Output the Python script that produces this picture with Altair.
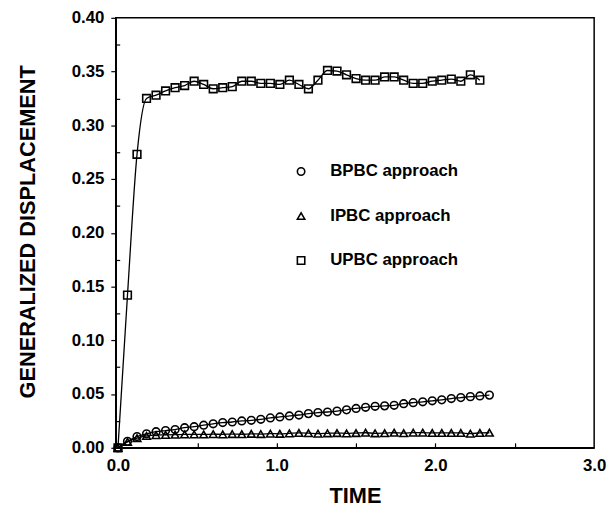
import altair as alt
import pandas as pd

# ---- data ----
time = [0.00, 0.06, 0.12, 0.18, 0.24, 0.30, 0.36, 0.42, 0.48, 0.54,
        0.60, 0.66, 0.72, 0.78, 0.84, 0.90, 0.96, 1.02, 1.08, 1.14,
        1.20, 1.26, 1.32, 1.38, 1.44, 1.50, 1.56, 1.62, 1.68, 1.74,
        1.80, 1.86, 1.92, 1.98, 2.04, 2.10, 2.16, 2.22, 2.28, 2.34]

bpbc = [0.0, 0.006, 0.0105, 0.013, 0.015, 0.016, 0.017, 0.0187, 0.0196, 0.021,
        0.0223, 0.0235, 0.024, 0.025, 0.0256, 0.0265, 0.0278, 0.0287, 0.0296, 0.0305,
        0.0318, 0.0328, 0.0333, 0.0341, 0.0353, 0.0366, 0.0377, 0.0386, 0.039, 0.0395,
        0.041, 0.042, 0.0428, 0.0437, 0.0446, 0.0458, 0.0467, 0.0476, 0.0482, 0.049]

ipbc = [0.0, 0.0055, 0.009, 0.011, 0.0118, 0.012, 0.0122, 0.0125, 0.0125, 0.0124,
        0.0127, 0.0125, 0.0128, 0.0126, 0.013, 0.0128, 0.0132, 0.013, 0.0134, 0.0138,
        0.0136, 0.0132, 0.0135, 0.0137, 0.0134, 0.0137, 0.014, 0.0135, 0.0136, 0.014,
        0.0136, 0.0141, 0.0141, 0.0138, 0.0138, 0.0138, 0.0138, 0.0132, 0.0138, 0.014]

upbc_time = time[:39]
upbc = [0.0, 0.142, 0.273, 0.325, 0.328, 0.332, 0.335, 0.337, 0.341, 0.338,
        0.334, 0.335, 0.336, 0.341, 0.341, 0.339, 0.339, 0.338, 0.342, 0.338,
        0.334, 0.342, 0.351, 0.3505, 0.347, 0.3435, 0.342, 0.342, 0.345, 0.345,
        0.342, 0.339, 0.339, 0.341, 0.342, 0.343, 0.341, 0.347, 0.342]

series_names = ["BPBC approach", "IPBC approach", "UPBC approach"]
series_shapes = ["circle", "triangle-up", "square"]

x_major = [0.0, 1.0, 2.0, 3.0]
x_minor = [0.5, 1.0, 1.5, 2.0, 2.5]
y_major = [0.0, 0.05, 0.10, 0.15, 0.20, 0.25, 0.30, 0.35, 0.40]
y_minor = [0.025, 0.075, 0.125, 0.175, 0.225, 0.275, 0.325, 0.375]

rows = []
for name, ts, vs in zip(series_names, [time, time, upbc_time], [bpbc, ipbc, upbc]):
    for t, v in zip(ts, vs):
        rows.append({"time": t, "value": v, "series": name})
df = pd.DataFrame(rows)

FONT = "Liberation Sans"
x_scale = alt.Scale(domain=[-0.014, 3.0], nice=False, zero=False)
y_scale = alt.Scale(domain=[0.0, 0.4], nice=False, zero=False)

base = alt.Chart(df)

lines = base.mark_line(color="black", strokeWidth=1.3, interpolate="monotone").encode(
    x=alt.X("time:Q", scale=x_scale,
            axis=alt.Axis(values=x_major, format=".1f", title="TIME", ticks=False, tickSize=0,
                          labelPadding=10, labelFlush=False, titleBaseline="alphabetic",
                          titleY=55, grid=False)),
    y=alt.Y("value:Q", scale=y_scale,
            axis=alt.Axis(values=y_major, format=".2f", title="GENERALIZED DISPLACEMENT",
                          tickSize=5, labelPadding=7, titleBaseline="alphabetic",
                          titleX=-82, titleY=216, grid=False)),
    detail="series:N",
)

points = base.mark_point(filled=False, color="black", strokeWidth=1.6, size=60, opacity=1).encode(
    x=alt.X("time:Q", scale=x_scale,
            axis=alt.Axis(orient="bottom", values=x_minor, labels=False, domain=False,
                          tickSize=5, offset=-5, title="", grid=False)),
    y=alt.Y("value:Q", scale=y_scale,
            axis=alt.Axis(orient="left", values=y_minor, labels=False, domain=False,
                          tickSize=4, offset=-4, title="", grid=False)),
    shape=alt.Shape("series:N",
                    scale=alt.Scale(domain=series_names, range=series_shapes),
                    legend=alt.Legend(orient="none", legendX=179, legendY=147, title=None,
                                      labelFont=FONT, labelFontWeight="bold", labelFontSize=17,
                                      labelColor="black", symbolStrokeColor="black",
                                      symbolFillColor="transparent", symbolStrokeWidth=1.6,
                                      symbolSize=56, labelOffset=21, rowPadding=27, padding=0)),
)

chart = (
    alt.layer(lines, points)
    .resolve_scale(x="shared", y="shared")
    .resolve_axis(x="independent", y="independent")
    .properties(width=484, height=435,
                autosize=alt.AutoSizeParams(type="none"),
                padding={"left": 109, "top": 7, "right": 13, "bottom": 60})
    .configure_view(stroke="black", strokeWidth=1.5)
    .configure_axis(labelFont=FONT, labelFontWeight="bold", labelFontSize=17, labelColor="black",
                    titleFont=FONT, titleFontWeight="bold", titleFontSize=22, titleColor="black",
                    domainColor="black", domainWidth=1.5, tickColor="black", tickWidth=1.2)
)

chart.save("out.html", embed_options={"renderer": "svg", "actions": False})
